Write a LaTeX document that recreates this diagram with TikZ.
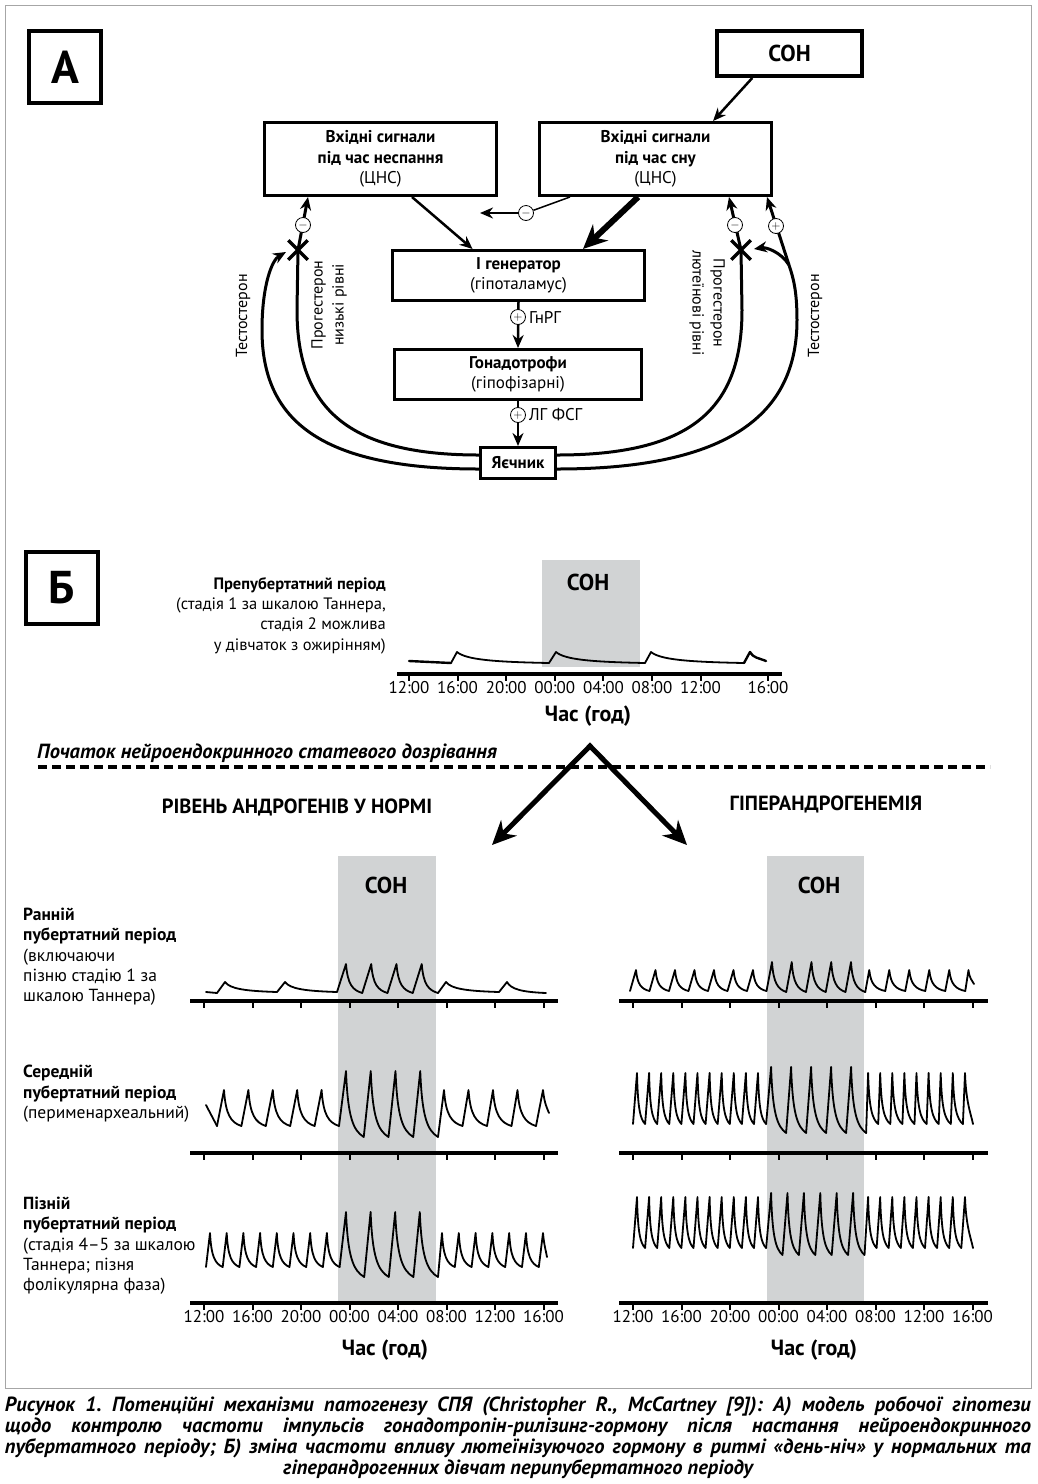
\documentclass[tikz,border=0pt]{standalone}
\usepackage{fontspec}
\setmainfont{PT Sans}
\usetikzlibrary{arrows.meta,calc,shapes.misc}
\frenchspacing

\definecolor{sleepgray}{RGB}{209,211,212}

% trough x, start y, period, pulses, rise, peak y, trough y
\newcommand{\pulses}[7]{%
  \draw[pulse] (#1,#2) \foreach \k in {1,...,#4}{
    -- ({#1+(\k-1)*#3+#5},#6)
    .. controls +({0.1*(#3-#5)},{0.7*(#7-#6)}) and +({-0.6*(#3-#5)},{-0.1*(#7-#6)}) .. ({#1+\k*#3},#7)};}

\tikzset{
  blk/.style={draw, line width=3pt, align=center, inner sep=2pt, font=\fontsize{17}{20.5}\selectfont},
  bigbox/.style={draw, line width=4pt, minimum width=72pt, minimum height=72pt, font=\bfseries\fontsize{46}{46}\selectfont},
  sign/.style={circle, draw, line width=0.8pt, fill=white, inner sep=0pt, minimum size=15pt, font=\fontsize{13}{13}\selectfont},
  arr/.style={-{Stealth[length=13pt,width=11pt]}},
  link/.style={line width=2.5pt, arr},
  fb/.style={line width=3pt},
  xmark/.style={cross out, draw, line width=3.5pt, minimum size=16pt, inner sep=0pt},
  vlabel/.style={align=center, font=\fontsize{16}{21}\selectfont},
  lbl/.style={align=left, anchor=north west, inner sep=0pt, font=\fontsize{17.5}{20.3}\selectfont},
  ticklbl/.style={font=\fontsize{17}{17}\selectfont},
  hourlbl/.style={font=\bfseries\fontsize{22}{22}\selectfont},
  sonlbl/.style={font=\bfseries\fontsize{23}{23}\selectfont},
  hdr/.style={font=\bfseries\fontsize{20.5}{20.5}\selectfont},
  timeaxis/.style={line width=4.5pt},
  tickmark/.style={line width=2pt},
  pulse/.style={line width=1.8pt, line join=round, line cap=round}
}

\begin{document}
\begin{tikzpicture}[x=1pt,y=-1pt,>=Stealth]
  \useasboundingbox (0,0) rectangle (1037,1484);
  \draw[gray!70,line width=1pt] (5,5) rectangle (1031,1388);

  % A
  \node[bigbox] (pa) at (65,67) {А};
  \node[blk, line width=4pt, minimum width=145pt, minimum height=45pt, font=\bfseries\fontsize{23}{23}\selectfont] (son) at (789.5,53.5) {СОН};
  \node[blk, minimum width=232pt, minimum height=73pt] (wake) at (380.5,159) {\textbf{Вхідні сигнали}\\\textbf{під час неспання}\\(ЦНС)};
  \node[blk, minimum width=232pt, minimum height=73pt] (sleep) at (655.5,159) {\textbf{Вхідні сигнали}\\\textbf{під час сну}\\(ЦНС)};
  \node[blk, minimum width=252pt, minimum height=50pt] (gen) at (518.5,275.5) {\textbf{І генератор}\\(гіпоталамус)};
  \node[blk, minimum width=247pt, minimum height=50pt] (gonad) at (518,374.5) {\textbf{Гонадотрофи}\\(гіпофізарні)};
  \node[blk, minimum width=75pt, minimum height=31pt] (ovary) at (518,463) {\textbf{Яєчник}};

  \draw[link] ($(son.south west)!0.25!(son.south east)$) -- ($(sleep.north west)!0.745!(sleep.north east)$);
  \draw[link] ($(wake.south west)!0.634!(wake.south east)$) -- ($(gen.north west)!0.32!(gen.north east)$);
  \draw[line width=6pt, -{Stealth[length=24pt,width=22pt]}] ($(sleep.south west)!0.426!(sleep.south east)$) -- ($(gen.north west)!0.753!(gen.north east)$);
  \coordinate (mend) at (480,213);
  \node[sign] (m1) at (526,213) {$-$};
  \draw[line width=1.5pt] ($(sleep.south west)!0.136!(sleep.south east)$) -- (m1);
  \draw[link] (m1) -- (mend);

  \draw[link] (gen.south) -- (gonad.north);
  \node[sign] (p1) at (518,317) {$+$};
  \node[right, inner sep=3pt, font=\fontsize{17}{17}\selectfont] (gnrh) at (p1.east) {ГнРГ};
  \draw[link] (gonad.south) -- (ovary.north);
  \node[sign] (p2) at (518,415) {$+$};
  \node[right, inner sep=3pt, font=\fontsize{17}{17}\selectfont] (lhfsh) at (p2.east) {ЛГ ФСГ};

  \coordinate (xlc) at (298,250);
  \coordinate (xrc) at (741,250);
  \coordinate (split) at (789,265);
  \draw[fb] ($(ovary.west)+(0,-8)$) .. controls (350,455) and (297,410) .. (297,310) -- (xlc);
  \draw[fb,arr] (xlc) -- ($(wake.south west)+(45,0)$);
  \draw[fb,arr] ($(ovary.west)+(0,6)$) .. controls (320,469) and (262,420) .. (262,330) .. controls (262,285) and (272,260) .. ($(xlc)+(-12,2)$);
  \draw[fb] ($(ovary.east)+(0,-8)$) .. controls (690,455) and (742,410) .. (742,310) -- (xrc);
  \draw[fb,arr] (xrc) -- ($(sleep.south west)+(191,0)$);
  \draw[fb] ($(ovary.east)+(0,6)$) .. controls (720,469) and (797,420) .. (797,320) .. controls (797,290) and (793,277) .. (split);
  \draw[fb,arr] (split) -- ($(sleep.south west)+(229,0)$);
  \draw[fb,arr] (split) .. controls (781,252) and (766,247) .. ($(xrc)+(13,-1)$);
  \node[sign] (m2) at (303,225) {$-$};
  \node[sign] (m3) at (735,225) {$-$};
  \node[sign] (p3) at (776,226) {$+$};
  \node[xmark] (xl) at (xlc) {};
  \node[xmark] (xr) at (xrc) {};

  \node[vlabel, rotate=90] (testl) at (243,316) {Тестостерон};
  \node[vlabel, rotate=90] (progl) at (329,305) {Прогестерон\\низькі рівні};
  \node[vlabel, rotate=-90] (progr) at (707,303) {Прогестерон\\лютеїнові рівні};
  \node[vlabel, rotate=90] (testr) at (815,316) {Тестостерон};

  % Б
  \node[bigbox] (pb) at (61.5,588) {Б};
  \node[lbl, anchor=east, align=right, font=\fontsize{16.5}{20.3}\selectfont] (prelbl) at (386,615.5) {\textbf{Препубертатний період}\\(стадія 1 за шкалою Таннера,\\стадія 2 можлива\\у дівчаток з ожирінням)};
  \fill[sleepgray] (542,560) rectangle (640,667);
  \node[sonlbl] (son0) at (588,582) {СОН};
  \draw[pulse, line width=2.4pt] (409,661) -- (451,663);
  \pulses{451}{663}{98}{1}{6}{652}{663}
  \pulses{549}{663}{96}{1}{7}{652}{663}
  \pulses{645}{663}{99}{1}{6}{652}{663}
  \draw[pulse, line width=2.4pt] (744,663) -- (750,652) .. controls +(3,6) and +(-7,-3) .. (766,661);
  \draw[timeaxis] (397,674) -- (782,674);
  \foreach \x/\t [count=\i] in {409/12:00,457.6/16:00,506.2/20:00,554.8/00:00,603.4/04:00,652/08:00,700.6/12:00,768/16:00} {
    \draw[tickmark] (\x,674) -- ++(0,7);
    \node[ticklbl] (pt\i) at (\x,688) {\t};
  }
  \node[hourlbl] (hr0) at (588,716) {Час (год)};

  \node[anchor=west, inner sep=0pt, font=\bfseries\itshape\fontsize{20.5}{20.5}\selectfont] (onset) at (37,753) {Початок нейроендокринного статевого дозрівання};
  \draw[line width=3.5pt, dash pattern=on 9pt off 5pt] (38,767) -- (990,767);
  \coordinate (apex) at (590,746);
  \coordinate (vl) at (492,845);
  \coordinate (vr) at (687,845);
  \draw[line width=5pt, line join=miter, {Stealth[length=24pt,width=22pt]}-{Stealth[length=24pt,width=22pt]}] (vl) -- (apex) -- (vr);
  \node[hdr] (normhdr) at (297,807) {РІВЕНЬ АНДРОГЕНІВ У НОРМІ};
  \node[hdr] (hyphdr) at (826,804) {ГІПЕРАНДРОГЕНЕМІЯ};

  \fill[sleepgray] (338,856) rectangle (436,1302);
  \fill[sleepgray] (767,856) rectangle (864,1302);
  \node[sonlbl] (son1) at (386,885) {СОН};
  \node[sonlbl] (son2) at (819,885) {СОН};

  \node[lbl] (early) at (23,908) {\textbf{Ранній}\\\textbf{пубертатний період}\\(включаючи\\пізню стадію 1 за\\шкалою Таннера)};
  \node[lbl] (mid) at (23,1065) {\textbf{Середній}\\\textbf{пубертатний період}\\(перименархеальний)};
  \node[lbl] (late) at (23,1197) {\textbf{Пізній}\\\textbf{пубертатний період}\\(стадія 4–5 за шкалою\\Таннера; пізня\\фолікулярна фаза)};

  % normal androgens
  \draw[pulse] (206,992) -- (217,993);
  \pulses{217}{993}{60}{2}{8}{982}{992}
  \pulses{337}{992}{25.25}{4}{9}{964}{993}
  \pulses{438}{993}{61}{1}{8}{982}{992}
  \draw[pulse] (499,992) -- (507,982) .. controls +(4,7) and +(-25,-1) .. (546,993);

  \draw[pulse] (206,1105) -- (217,1126);
  \pulses{217}{1126}{24.4}{5}{7}{1090}{1126}
  \pulses{339}{1126}{24.75}{4}{7}{1071}{1137}
  \pulses{438}{1137}{24.5}{4}{6}{1090}{1126}
  \draw[pulse] (536,1126) -- (543,1090) .. controls +(1.5,14) and +(-2,-5) .. (549,1113);

  \pulses{206}{1267}{16.7}{8}{4}{1233}{1267}
  \pulses{339.6}{1267}{24.6}{4}{6.4}{1212}{1277}
  \pulses{438}{1277}{16.8}{6}{4}{1233}{1267}
  \draw[pulse] (538.8,1267) -- (543,1233) .. controls +(1,12) and +(-1,-6) .. (547,1257);

  % hyperandrogenemia
  \pulses{630}{991}{19.5}{7}{6}{970}{991}
  \pulses{766.5}{991}{19.75}{5}{5.5}{962}{992}
  \pulses{865.25}{992}{20}{5}{4}{970}{991}
  \draw[pulse] (965.25,991) -- (968.5,970) .. controls +(1,9) and +(-2,-4) .. (974,984);

  \pulses{633}{1124}{12.1}{11}{4}{1073}{1124}
  \pulses{766.1}{1124}{20}{5}{5}{1067}{1133}
  \pulses{866.1}{1133}{12.1}{8}{2}{1073}{1124}
  \draw[pulse] (962.9,1124) -- (965,1073) .. controls +(1,30) and +(-2,-10) .. (973,1124);

  \pulses{633}{1248}{12.1}{11}{4}{1197}{1248}
  \pulses{766.1}{1248}{16.4}{6}{5}{1193}{1255}
  \pulses{864.5}{1255}{12.1}{8}{3.6}{1197}{1248}
  \draw[pulse] (961.3,1248) -- (965,1197) .. controls +(1,30) and +(-2,-10) .. (973,1248);

  \foreach \y in {1001,1153,1303} {
    \draw[timeaxis] (190,\y) -- (558,\y);
    \draw[timeaxis] (619,\y) -- (988,\y);
    \foreach \i in {0,...,7} {
      \draw[tickmark] ({204+48.5*\i},\y) -- ++(0,7);
      \draw[tickmark] ({633+48.5*\i},\y) -- ++(0,7);
    }
  }
  \foreach \t [count=\i from 0] in {12:00,16:00,20:00,00:00,04:00,08:00,12:00,16:00} {
    \node[ticklbl] (la\i) at ({204+48.5*\i},1317) {\t};
    \node[ticklbl] (ra\i) at ({633+48.5*\i},1317) {\t};
  }
  \node[hourlbl] (hr1) at (385,1350) {Час (год)};
  \node[hourlbl] (hr2) at (814,1350) {Час (год)};

  \node[anchor=north, inner sep=0pt, font=\bfseries\itshape\fontsize{20.5}{21}\selectfont] (caption) at (518,1396)
    {\parbox[t]{1026pt}{\leavevmode\leftskip=0pt plus 1fil\relax\rightskip=0pt plus -1fil\relax\parfillskip=0pt plus 2fil\relax
     Рисунок 1. Потенційні механізми патогенезу СПЯ (Christopher R., McCartney [9]): А) модель робочої гіпотези\linebreak
     щодо контролю частоти імпульсів гонадотропін-рилізинг-гормону після настання нейроендокринного\linebreak
     пубертатного періоду; Б) зміна частоти впливу лютеїнізуючого гормону в ритмі «день-ніч» у нормальних та\linebreak
     гіперандрогенних дівчат перипубертатного періоду}};
\end{tikzpicture}
\end{document}
